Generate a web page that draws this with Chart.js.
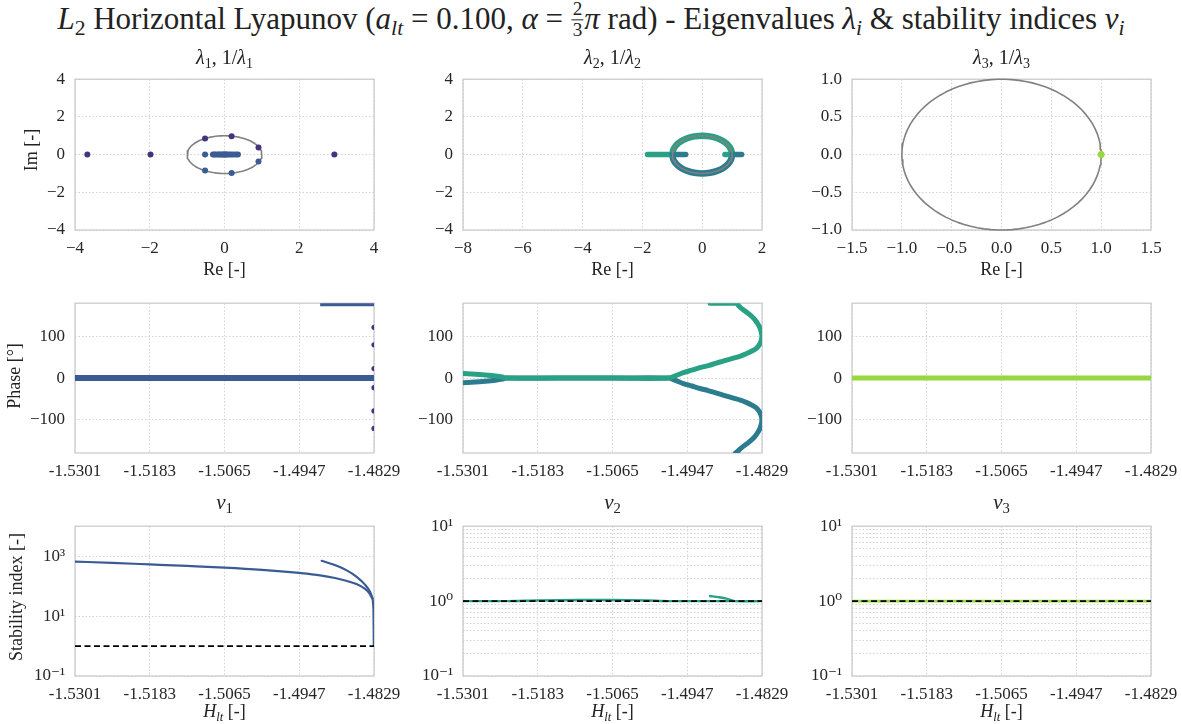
<!DOCTYPE html>
<html>
<head>
<meta charset="utf-8">
<title>L2 Horizontal Lyapunov - eigenvalues</title>
<script src="https://cdn.jsdelivr.net/npm/chart.js@4.4.1/dist/chart.umd.min.js"></script>
<style>
  html, body { margin: 0; padding: 0; background: #fff; overflow: hidden; }
  body { width: 1182px; height: 724px; position: relative; font-family: "Liberation Serif", "DejaVu Serif", serif; color: #222; }
  canvas.panel { position: absolute; }
  .txt { position: absolute; white-space: nowrap; transform: translate(-50%, -50%); line-height: 1; }
  .txt.rot { transform: translate(-50%, -50%) rotate(-90deg); }
  .txt sub { font-size: 0.7em; vertical-align: baseline; position: relative; top: 0.3em; }
  .frac { display: inline-block; vertical-align: middle; text-align: center; font-size: 0.62em; line-height: 1.05; margin: 0 1px; position: relative; top: -0.12em; }
  .frac span { display: block; padding: 0 1px; }
  .frac span:first-child { border-bottom: 1px solid #222; }
</style>
</head>
<body>
<script>
/* ------------------------------
   Tick values
   ------------------------------ */
const reTicksA = [-4, -2, 0, 2, 4];
const imTicksA = [-4, -2, 0, 2, 4];
const reTicksB = [-8, -6, -4, -2, 0, 2];
const reTicksC = [-1.5, -1.0, -0.5, 0.0, 0.5, 1.0, 1.5];
const imTicksC = [-1.0, -0.5, 0.0, 0.5, 1.0];
const hTicks = [-1.5301, -1.5183, -1.5065, -1.4947, -1.4829];
const phaseTicks = [-100, 0, 100];
const v1Ticks = [0.1, 10, 1000];
const v23Ticks = [0.1, 0.2, 0.3, 0.4, 0.5, 0.6, 0.7, 0.8, 0.9, 1, 2, 3, 4, 5, 6, 7, 8, 9, 10];

/* ------------------------------
   λ1, 1/λ1 (complex plane)
   ------------------------------ */
const lam1OuterRe = [-3.67, -1.98, 2.94, -0.52, 0.19, 0.91];
const lam1OuterIm = [0, 0, 0, 0.86, 0.98, 0.38];
const lam1InnerRe = [-0.52, 0.91, 0.19, -0.52, -0.31, -0.27, -0.23, -0.18, -0.14, -0.10, -0.06, -0.03, 0.0, 0.02, 0.05, 0.09, 0.14, 0.19, 0.25, 0.31, 0.36];
const lam1InnerIm = [0, -0.37, -0.97, -0.85, 0, 0, 0, 0, 0, 0, 0, 0, 0, 0, 0, 0, 0, 0, 0, 0, 0];

/* λ2, 1/λ2 track */
const lam2UpperRe = [1.0, 0.966, 0.866, 0.707, 0.5, 0.259, 0.0, -0.259, -0.5, -0.707, -0.866, -0.966, -1.0];
const lam2UpperIm = [0.0, 0.259, 0.5, 0.707, 0.866, 0.966, 1.0, 0.966, 0.866, 0.707, 0.5, 0.259, 0.0];
const lam2LowerRe = [1.0, 0.966, 0.866, 0.707, 0.5, 0.259, 0.0, -0.259, -0.5, -0.707, -0.866, -0.966, -1.0];
const lam2LowerIm = [0.0, -0.259, -0.5, -0.707, -0.866, -0.966, -1.0, -0.966, -0.866, -0.707, -0.5, -0.259, 0.0];
const lam2GreenNegRe = [-1.83, -1.62, -1.41, -1.2, -1.0];
const lam2GreenPosRe = [0.76, 0.84, 0.92, 1.0];
const lam2BlueNegRe = [-1.0, -0.84, -0.69, -0.55];
const lam2BluePosRe = [1.0, 1.1, 1.21, 1.32];

/* λ3, 1/λ3 */
const lam3Re = [1.0];
const lam3Im = [0.0];

/* ------------------------------
   Phases vs H_lt
   ------------------------------ */
const phase1H = [-1.5301, -1.5183, -1.5065, -1.4947, -1.4829];
const phase1Real = [0, 0, 0, 0, 0];
const phase1FlipH = [-1.4914, -1.4870, -1.4829];
const phase1Flip = [180, 180, 180];
const phase1EndH = [-1.4829, -1.4829, -1.4829, -1.4829, -1.4829, -1.4829];
const phase1End = [122, 80, 23, -23, -79, -121];

const phase2GreenH = [-1.5301, -1.5282, -1.5266, -1.5250, -1.5239, -1.5233, -1.5150, -1.5065, -1.4977,
  -1.4965, -1.4953, -1.4940, -1.4927, -1.4914, -1.4901, -1.4888, -1.4874, -1.4863, -1.4853, -1.4845,
  -1.48375, -1.48325, -1.48300, -1.48292, -1.48300, -1.48320, -1.48355, -1.4840, -1.4845, -1.4853,
  -1.4861, -1.4866, -1.4869, -1.4890, -1.4911];
const phase2Green = [11, 9.5, 7.5, 5, 2.5, 0, 0, 0, 0,
  6, 13, 19, 25, 30, 36, 42, 48, 53, 59, 65,
  72, 82, 92, 101, 110, 120, 130, 140, 148, 158,
  167, 174, 180, 180, 180];
const phase2BlueH = [-1.5301, -1.5282, -1.5266, -1.5250, -1.5239, -1.5233, -1.5150, -1.5065, -1.4977,
  -1.4965, -1.4953, -1.4940, -1.4927, -1.4914, -1.4901, -1.4888, -1.4874, -1.4863, -1.4853, -1.4845,
  -1.48375, -1.48325, -1.48300, -1.48292, -1.48300, -1.48320, -1.48355, -1.4840, -1.4845, -1.4853,
  -1.4861, -1.4866, -1.4871];
const phase2Blue = [-11, -9.5, -7.5, -5, -2.5, 0, 0, 0, 0,
  -6, -13, -19, -25, -30, -36, -42, -48, -53, -59, -65,
  -72, -82, -92, -101, -110, -120, -130, -140, -148, -158,
  -167, -174, -180];

const phase3H = [-1.5301, -1.5183, -1.5065, -1.4947, -1.4829];
const phase3 = [0, 0, 0, 0, 0];

/* ------------------------------
   Stability indices vs H_lt
   ------------------------------ */
const v1MainH = [-1.5301, -1.52426, -1.5183, -1.51242, -1.5065, -1.50058, -1.4947, -1.49142, -1.48906,
  -1.48716, -1.48558, -1.48448, -1.48368, -1.48321, -1.48298, -1.48293];
const v1Main = [661, 596, 531, 473, 417, 351, 275, 229, 186, 148, 115, 85, 60, 40, 16, 1];
const v1BackH = [-1.49116, -1.48932, -1.48721, -1.48563, -1.48432, -1.48353, -1.4831];
const v1Back = [700, 525, 335, 204, 112, 65, 38];

const v2H = [-1.5301, -1.5233, -1.5183, -1.5120, -1.5065, -1.5010, -1.4977, -1.4829, -1.4872, -1.4885, -1.4898, -1.4911];
const v2 = [1, 1, 1.02, 1.035, 1.035, 1.02, 1, 1, 1, 1.08, 1.13, 1.17];

const v3H = [-1.5301, -1.5183, -1.5065, -1.4947, -1.4829];
const v3 = [1, 1, 1, 1, 1];

const unitRefH = [-1.5301, -1.4829];
const unitRef = [1, 1];

/* ------------------------------
   Style
   ------------------------------ */
const FONT = '"Liberation Serif", "DejaVu Serif", serif';
const col = {
  purple: '#46337f', blue: '#3b5b95', teal: '#2c7b8e', green: '#28a185',
  lime: '#97d73f', ring: '#808080', grid: '#d2d2d2', frame: '#cccccc', tick: '#262626'
};
const LM = 80, RM = 45, TM = 12, BM = 36;
const PW = 299;
const colL = [75, 463, 852];
const rowT = [71, 295, 518];
const rowH = [159, 158, 158];

const pts = (xs, ys) => xs.map((x, i) => ({ x, y: ys[i] }));
const minus = (v, d) => (v < 0 ? '\u2212' : '') + Math.abs(v).toFixed(d);
const SUP = { '-': '\u207B', '0': '\u2070', '1': '\u00B9', '2': '\u00B2', '3': '\u00B3', '4': '\u2074' };
const pow10 = (v) => {
  const e = Math.log10(v);
  if (Math.abs(e - Math.round(e)) > 1e-6) return '';
  return '10' + String(Math.round(e)).split('').map(c => SUP[c]).join('');
};

// light grey box round the plot area
const framePlugin = {
  id: 'frame',
  beforeDatasetsDraw(chart) {
    const { ctx, chartArea: a } = chart;
    ctx.save();
    ctx.strokeStyle = col.frame;
    ctx.lineWidth = 1.3;
    ctx.strokeRect(a.left, a.top, a.right - a.left, a.bottom - a.top);
    ctx.restore();
  }
};

function axis(spec, dir) {
  return {
    type: spec.log ? 'logarithmic' : 'linear',
    position: dir === 'x' ? 'bottom' : 'left',
    min: spec.min, max: spec.max,
    grid: { color: col.grid, lineWidth: 1, drawTicks: false },
    border: { display: false, dash: [1.5, 2] },
    ticks: {
      autoSkip: false, maxRotation: 0, padding: dir === 'x' ? 8 : 10,
      font: { family: FONT, size: 17 }, color: col.tick,
      callback: (v) => spec.fmt(v)
    },
    afterBuildTicks: (s) => { s.ticks = spec.ticks.map(v => ({ value: v })); },
    afterFit: (s) => { if (dir === 'x') s.height = BM; else s.width = LM; }
  };
}

function makePanel(row, column, xs, ys, datasets) {
  const box = { l: colL[column], t: rowT[row], w: PW, h: rowH[row] };
  const c = document.createElement('canvas');
  c.className = 'panel';
  const W = box.w + LM + RM, H = box.h + TM + BM;
  c.width = W; c.height = H;
  c.style.left = (box.l - LM) + 'px';
  c.style.top = (box.t - TM) + 'px';
  c.style.width = W + 'px'; c.style.height = H + 'px';
  document.body.appendChild(c);
  return new Chart(c, {
    type: 'scatter',
    data: { datasets },
    options: {
      responsive: false, animation: false, events: [],
      layout: { padding: { top: TM, right: RM, left: 0, bottom: 0 } },
      plugins: { legend: { display: false }, tooltip: { enabled: false } },
      scales: { x: axis(xs, 'x'), y: axis(ys, 'y') }
    },
    plugins: [framePlugin]
  });
}

// first dataset in each list is drawn on top
const line = (data, color, width, extra) => Object.assign({
  data, showLine: true, borderColor: color, borderWidth: width, pointRadius: 0,
  borderCapStyle: 'round', borderJoinStyle: 'round', clip: 0
}, extra || {});
const dots = (data, color, r) => ({
  data, showLine: false, pointRadius: r, pointBackgroundColor: color, pointBorderWidth: 0, clip: 0
});

// unit circle |λ| = 1
const unitCircle = [];
for (let d = 0; d <= 360; d += 4) {
  unitCircle.push({ x: Math.cos(d * Math.PI / 180), y: Math.sin(d * Math.PI / 180) });
}
const circle = (w) => line(unitCircle, col.ring, w, { clip: false });

const fmtInt = (v) => minus(v, 0);
const fmtOne = (v) => minus(v, 1);
const fmtH = (v) => v.toFixed(4);

/* Row 1: eigenvalues in the complex plane */
makePanel(0, 0,
  { min: -4, max: 4, ticks: reTicksA, fmt: fmtInt },
  { min: -4, max: 4, ticks: imTicksA, fmt: fmtInt },
  [
    dots(pts(lam1OuterRe, lam1OuterIm), col.purple, 3),
    dots(pts(lam1InnerRe, lam1InnerIm), col.blue, 3),
    circle(1.6)
  ]);

makePanel(0, 1,
  { min: -8, max: 2, ticks: reTicksB, fmt: fmtInt },
  { min: -4, max: 4, ticks: imTicksA, fmt: fmtInt },
  [
    circle(1.6),
    line(pts(lam2BlueNegRe, [0, 0, 0, 0]), col.teal, 5.5),
    line(pts(lam2BluePosRe, [0, 0, 0, 0]), col.teal, 5.5),
    line(pts(lam2GreenNegRe, [0, 0, 0, 0, 0]), col.green, 5.5),
    line(pts(lam2GreenPosRe, [0, 0, 0, 0]), col.green, 5.5),
    line(pts(lam2UpperRe, lam2UpperIm), col.green, 6.5, { tension: 0.4 }),
    line(pts(lam2LowerRe, lam2LowerIm), col.teal, 6.5, { tension: 0.4 })
  ]);

makePanel(0, 2,
  { min: -1.5, max: 1.5, ticks: reTicksC, fmt: fmtOne },
  { min: -1, max: 1, ticks: imTicksC, fmt: fmtOne },
  [
    dots(pts(lam3Re, lam3Im), col.lime, 3.5),
    circle(1.6)
  ]);

/* Row 2: phases */
const phaseAxis = { min: -180, max: 180, ticks: phaseTicks, fmt: fmtInt };
const hAxis = { min: -1.5301, max: -1.4829, ticks: hTicks, fmt: fmtH };

makePanel(1, 0, hAxis, phaseAxis, [
  dots(pts(phase1EndH, phase1End), col.purple, 2.6),
  line(pts(phase1FlipH, phase1Flip), col.blue, 6, { borderCapStyle: 'butt' }),
  line(pts(phase1H, phase1Real), col.blue, 6, { borderCapStyle: 'butt' })
]);

makePanel(1, 1, hAxis, phaseAxis, [
  line(pts(phase2GreenH, phase2Green), col.green, 5, { tension: 0.35 }),
  line(pts(phase2BlueH, phase2Blue), col.teal, 5, { tension: 0.35 })
]);

makePanel(1, 2, hAxis, phaseAxis, [
  line(pts(phase3H, phase3), col.lime, 5, { borderCapStyle: 'butt' })
]);

/* Row 3: stability indices */
const dashed = () => line(pts(unitRefH, unitRef), '#000', 1.8, { borderDash: [6, 3.5], borderCapStyle: 'butt' });

makePanel(2, 0, hAxis, { log: true, min: 0.1, max: 10000, ticks: v1Ticks, fmt: pow10 }, [
  dashed(),
  line(pts(v1MainH, v1Main), col.blue, 2.2, { cubicInterpolationMode: 'monotone' }),
  line(pts(v1BackH, v1Back), col.blue, 2.2, { cubicInterpolationMode: 'monotone' })
]);

makePanel(2, 1, hAxis, { log: true, min: 0.1, max: 10, ticks: v23Ticks, fmt: pow10 }, [
  dashed(),
  line(pts(v2H, v2), col.green, 2.4, { tension: 0.3 })
]);

makePanel(2, 2, hAxis, { log: true, min: 0.1, max: 10, ticks: v23Ticks, fmt: pow10 }, [
  dashed(),
  line(pts(v3H, v3), col.lime, 2.8)
]);

/* ------------------------------
   Titles and axis labels
   ------------------------------ */
function note(html, x, y, size, rotate) {
  const d = document.createElement('div');
  d.className = 'txt' + (rotate ? ' rot' : '');
  d.style.left = x + 'px';
  d.style.top = y + 'px';
  d.style.fontSize = size + 'px';
  d.innerHTML = html;
  document.body.appendChild(d);
}

const cx = colL.map(l => l + PW / 2);

note('<i>L</i><sub>2</sub> Horizontal Lyapunov (<i>a<sub>lt</sub></i> = 0.100, <i>\u03B1</i> = ' +
     '<span class="frac"><span>2</span><span>3</span></span><i>\u03C0</i> rad) - Eigenvalues ' +
     '<i>\u03BB<sub>i</sub></i> &amp; stability indices <i>v<sub>i</sub></i>', 591, 22, 31);

[1, 2, 3].forEach((n, i) => {
  note(`<i>\u03BB</i><sub>${n}</sub>, 1/<i>\u03BB</i><sub>${n}</sub>`, cx[i], 57, 20);
  note(`<i>v</i><sub>${n}</sub>`, cx[i], 502, 21);
  note('Re [-]', cx[i], 269, 18);
  note('<i>H<sub>lt</sub></i> [-]', cx[i], 711, 18);
});

note('Im [-]', 31, 150, 18, true);
note('Phase [\u00B0]', 14, 376, 18, true);
note('Stability index [-]', 16, 597, 18, true);
</script>
</body>
</html>
